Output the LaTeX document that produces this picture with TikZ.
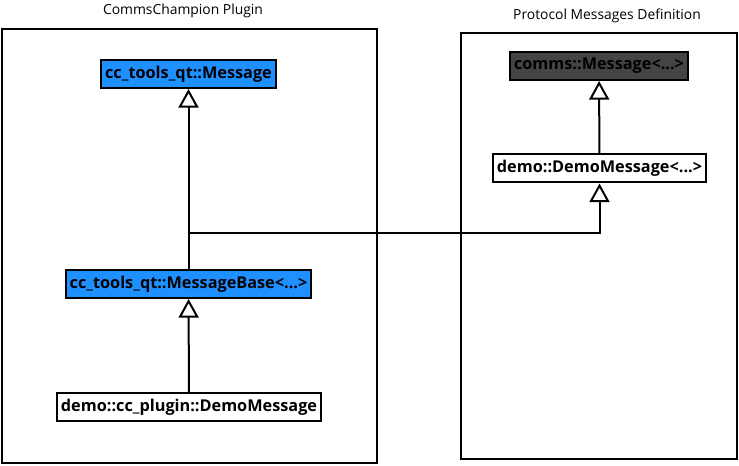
\documentclass[tikz,border=0pt]{standalone}
\usepackage{fontspec}
\setmainfont{Open Sans}
\usepackage{tikz}
\usetikzlibrary{arrows.meta}
\definecolor{ccblue}{RGB}{30,144,255}
\definecolor{commsgrey}{RGB}{68,68,68}

\begin{document}
\begin{tikzpicture}[
    x=0.75pt, y=-0.75pt,
    line width=1.5pt,
    pkg/.style={draw, line width=1.5pt},
    pkgtitle/.style={font=\fontsize{10.4}{13}\selectfont},
    cls/.style={draw, font=\fontsize{12.2}{14}\selectfont\bfseries, inner xsep=3pt,
        minimum height=21pt, line width=1.5pt},
    plugcls/.style={cls, fill=ccblue},
    commscls/.style={cls, fill=commsgrey},
    inherit/.style={-{Triangle[open, width=15pt, length=14pt]}}
]
\useasboundingbox (0,0) rectangle (739,466);

% packages
\draw[pkg] (2,29) rectangle (377,463);
\draw[pkg] (461,33) rectangle (737,459);
\node[pkgtitle] (plugtitle) at (183,11) {CommsChampion Plugin};
\node[pkgtitle] (prottitle) at (607,16) {Protocol Messages Definition};

% classes
\node[plugcls] (ccmsg) at (188.5,74) {cc\_tools\_qt::Message};
\node[plugcls] (msgbase) at (188.5,284) {cc\_tools\_qt::MessageBase<...>};
\node[cls] (plugmsg) at (189,407) {demo::cc\_plugin::DemoMessage};
\node[commscls] (commsmsg) at (599,66) {comms::Message<...>};
\node[cls] (demomsg) at (599.5,168.5) {demo::DemoMessage<...>};
\coordinate (split) at (400,233);

% inheritance
\draw[inherit] (plugmsg) -- (msgbase);
\draw[inherit] (msgbase) -- (ccmsg);
\draw[inherit] (msgbase.north) |- (split) -| (demomsg.south);
\draw[inherit] (demomsg) -- (commsmsg);
\end{tikzpicture}
\end{document}
